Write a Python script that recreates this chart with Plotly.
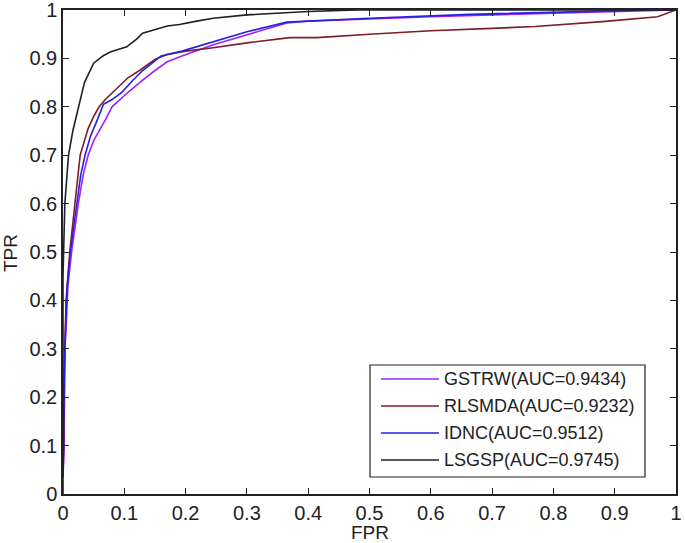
import plotly.graph_objects as go

# ---- data ----
gstrw_fpr = [0, 0.002, 0.002, 0.003, 0.005, 0.008, 0.014, 0.02, 0.025, 0.033, 0.041, 0.05, 0.06, 0.07, 0.08,
             0.106, 0.13, 0.15, 0.17, 0.194, 0.245, 0.30, 0.365, 0.4, 0.5, 0.6, 0.7, 0.85, 0.95, 1.0]
gstrw_tpr = [0.035, 0.1, 0.2, 0.3, 0.34, 0.43, 0.5, 0.56, 0.6, 0.66, 0.7, 0.73, 0.752, 0.775, 0.80,
             0.83, 0.855, 0.875, 0.893, 0.905, 0.928, 0.949, 0.973, 0.977, 0.982, 0.986, 0.99, 0.995, 0.998, 1.0]

rlsmda_fpr = [0, 0.002, 0.003, 0.005, 0.011, 0.016, 0.02, 0.024, 0.028, 0.035, 0.041, 0.05, 0.059, 0.069, 0.09,
              0.106, 0.126, 0.15, 0.17, 0.2, 0.245, 0.3, 0.37, 0.414, 0.5, 0.6, 0.7, 0.77, 0.88, 0.97, 1.0]
rlsmda_tpr = [0.035, 0.15, 0.3, 0.4, 0.5, 0.56, 0.6, 0.65, 0.7, 0.73, 0.755, 0.78, 0.80, 0.815, 0.84,
              0.86, 0.876, 0.898, 0.908, 0.915, 0.922, 0.932, 0.943, 0.943, 0.95, 0.957, 0.962, 0.966, 0.976, 0.986, 1.0]

idnc_fpr = [0, 0.001, 0.002, 0.004, 0.007, 0.012, 0.018, 0.022, 0.029, 0.036, 0.045, 0.055, 0.066, 0.08, 0.096,
            0.114, 0.13, 0.15, 0.16, 0.194, 0.245, 0.30, 0.365, 0.5, 0.664, 0.85, 0.95, 1.0]
idnc_tpr = [0.035, 0.15, 0.25, 0.34, 0.43, 0.5, 0.56, 0.6, 0.66, 0.7, 0.74, 0.77, 0.805, 0.815, 0.83,
            0.855, 0.875, 0.895, 0.905, 0.915, 0.935, 0.955, 0.975, 0.983, 0.991, 0.997, 1.0, 1.0]

lsgsp_fpr = [0, 0, 0.002, 0.003, 0.006, 0.009, 0.016, 0.025, 0.035, 0.05, 0.065, 0.077, 0.104, 0.12, 0.13,
             0.17, 0.19, 0.218, 0.245, 0.3, 0.4, 0.48, 1.0]
lsgsp_tpr = [0.0, 0.45, 0.55, 0.6, 0.65, 0.7, 0.75, 0.8, 0.85, 0.89, 0.905, 0.913, 0.924, 0.94, 0.952,
             0.967, 0.97, 0.977, 0.983, 0.99, 0.997, 1.0, 1.0]

series_names = ["GSTRW(AUC=0.9434)", "RLSMDA(AUC=0.9232)", "IDNC(AUC=0.9512)", "LSGSP(AUC=0.9745)"]
series_colors = ["#a020ff", "#7e1c28", "#2222e0", "#1c2228"]
tick_vals = [0, 0.1, 0.2, 0.3, 0.4, 0.5, 0.6, 0.7, 0.8, 0.9, 1]
tick_text = ["0", "0.1", "0.2", "0.3", "0.4", "0.5", "0.6", "0.7", "0.8", "0.9", "1"]
x_title = "FPR"
y_title = "TPR"

xs = [gstrw_fpr, rlsmda_fpr, idnc_fpr, lsgsp_fpr]
ys = [gstrw_tpr, rlsmda_tpr, idnc_tpr, lsgsp_tpr]

# ---- layout geometry (window pixels; the page body margin is removed below) ----
W, H = 685, 543
PLOT_L, PLOT_R, PLOT_T, PLOT_B = 63, 676, 10, 494
ML, MT, MR, MB = PLOT_L, PLOT_T, W - PLOT_R, H - PLOT_B
PW, PH = PLOT_R - PLOT_L, PLOT_B - PLOT_T


def px(xp):
    return (xp - PLOT_L) / PW


def py(yp):
    return (PLOT_B - yp) / PH


fig = go.Figure()
for x, y, n, c in zip(xs, ys, series_names, series_colors):
    fig.add_trace(go.Scatter(x=x, y=y, mode="lines", name=n, showlegend=False,
                             line=dict(color=c, width=1.6)))

FONT = "Liberation Sans, Arial, sans-serif"
tickfont = dict(family=FONT, size=20, color="#222222")
axis_common = dict(range=[0, 1], tickvals=tick_vals, ticktext=tick_text, ticks="inside", ticklen=6,
                   tickcolor="#222222", showline=True, linecolor="#222222", linewidth=1.5, mirror="ticks",
                   showgrid=False, zeroline=False, tickfont=tickfont, automargin=False,
                   ticklabeloverflow="allow")

shapes = []
annotations = []
# legend box drawn by hand to match the reference proportions
shapes.append(dict(type="rect", xref="paper", yref="paper",
                   x0=px(370), x1=px(645), y0=py(477), y1=py(365),
                   line=dict(color="#222222", width=1.2), fillcolor="white", layer="above"))
row_y = [379, 406, 433, 460]
for n, c, ry in zip(series_names, series_colors, row_y):
    shapes.append(dict(type="line", xref="paper", yref="paper",
                       x0=px(381), x1=px(439), y0=py(ry), y1=py(ry),
                       line=dict(color=c, width=1.6), layer="above"))
    annotations.append(dict(text=n, xref="paper", yref="paper", x=px(442), y=py(ry),
                            xanchor="left", yanchor="middle", showarrow=False,
                            font=dict(family=FONT, size=18, color="#222222")))

annotations.append(dict(text=x_title, xref="paper", yref="paper", x=0.5, y=py(532),
                        xanchor="center", yanchor="middle", showarrow=False,
                        font=dict(family=FONT, size=19, color="#222222")))
annotations.append(dict(text=y_title, xref="paper", yref="paper", x=px(11), y=py(253),
                        xanchor="center", yanchor="middle", showarrow=False, textangle=-90,
                        font=dict(family=FONT, size=19, color="#222222")))

fig.update_layout(
    width=W, height=H,
    margin=dict(l=ML, r=MR, t=MT, b=MB, pad=0),
    paper_bgcolor="white", plot_bgcolor="white",
    xaxis=dict(axis_common),
    yaxis=dict(axis_common),
    shapes=shapes,
    annotations=annotations,
    showlegend=False,
)

fig.write_html("out.html", config={"displayModeBar": False},
               post_script="document.body.style.margin='0px';document.body.style.overflow='hidden';")
